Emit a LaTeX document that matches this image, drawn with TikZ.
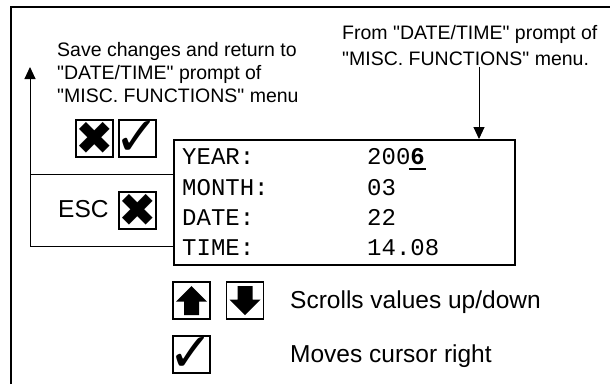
\documentclass[tikz,border=0pt]{standalone}
\usepackage{fontspec}
\setmainfont{Liberation Sans}
\newfontfamily\monofont{Liberation Mono}
\newfontfamily\symfont{DejaVu Sans}
\usetikzlibrary{arrows.meta}
\newcommand\qd{\textquotedbl}
\tikzset{
  lbl/.style={inner sep=0pt, align=left, font=\fontsize{19.5}{23}\selectfont},
  biglbl/.style={inner sep=0pt, font=\fontsize{24.5}{29}\selectfont},
  mono/.style={inner sep=0pt, font=\monofont\fontsize{24}{30}\selectfont},
  btn/.style={draw, line width=1.5pt, minimum size=37pt, inner sep=0pt},
  conn/.style={line width=1pt},
  tip/.style={-{Triangle[length=12pt,width=11pt]}},
  xsym/.style={font=\symfont\fontsize{46}{46}\selectfont, inner sep=0pt},
  csym/.style={font=\symfont\fontsize{54}{54}\selectfont, inner sep=0pt},
}
\begin{document}
\begin{tikzpicture}[x=1pt,y=-1pt]
\useasboundingbox (0,0) rectangle (610,384);
% outer frame (only left and top visible)
\coordinate (fbl) at (11,384);
\coordinate (ftl) at (11,7);
\coordinate (ftr) at (610,7);
\draw[line width=2pt] (fbl) -- (ftl) -- (ftr);

% display box
\node[draw, line width=1.5pt, minimum width=341pt, minimum height=125pt, anchor=north west, inner sep=0pt] (disp) at (173,139) {};
\node[mono, anchor=base west] (yr) at (182,164) {YEAR:};
\node[mono, anchor=base west] (mo) at (182,195) {MONTH:};
\node[mono, anchor=base west] (dt) at (182,225) {DATE:};
\node[mono, anchor=base west] (tm) at (182,255) {TIME:};
\node[mono, anchor=base west] (yrv) at (367,164) {200\makebox[0pt][l]{\hspace{-1.5pt}\rule[-6pt]{17.5pt}{2pt}}\textbf{6}};
\node[mono, anchor=base west] (mov) at (367,195) {03};
\node[mono, anchor=base west] (dtv) at (367,225) {22};
\node[mono, anchor=base west] (tmv) at (367,255) {14.08};

% labels
\node[lbl, anchor=base west] (save) at (57,102) {Save changes and return to\\\qd DATE/TIME\qd{} prompt of\\\qd MISC. FUNCTIONS\qd{} menu};
\node[lbl, anchor=base west, font=\fontsize{19.5}{25.5}\selectfont] (from) at (342,65) {From \qd DATE/TIME\qd{} prompt of\\\qd MISC. FUNCTIONS\qd{} menu.};
\node[biglbl, anchor=base west] (esc) at (58,217) {ESC};
\node[biglbl, anchor=base west] (scr) at (290,308.5) {Scrolls values up/down};
\node[biglbl, anchor=base west] (mov2) at (290,362) {Moves cursor right};

% buttons
\node[btn] (bx1) at (94.5,138.5) {};
\node[btn] (bc1) at (137.5,138.5) {};
\node[btn] (bx2) at (137.5,210.5) {};
\node[btn] (bup) at (191.5,300.5) {};
\node[btn] (bdn) at (245,300.5) {};
\node[btn] (bc2) at (191.5,354.5) {};
\node[xsym] (sx1) at (bx1.center) {✖};
\node[xsym] (sx2) at (bx2.center) {✖};
\node[csym] (sc1) at (bc1.center) {✓};
\node[csym] (sc2) at (bc2.center) {✓};
\fill[shift={(bup.center)}] (0,-14.5) -- (15.5,1) -- (7.5,1) -- (7.5,14.5) -- (-7.5,14.5) -- (-7.5,1) -- (-15.5,1) -- cycle;
\fill[shift={(bdn.center)}] (0,14.5) -- (15.5,-1) -- (7.5,-1) -- (7.5,-14.5) -- (-7.5,-14.5) -- (-7.5,-1) -- (-15.5,-1) -- cycle;

% connectors
\coordinate (lt) at (30,174);
\coordinate (lb) at (30,246);
\coordinate (ltop) at (30,67);
\draw[conn, tip] (lb -| disp.west) -- (lb) -- (ltop);
\draw[conn] (lt -| disp.west) -- (lt);
\coordinate (fa) at (479,67);
\draw[conn, tip] (fa) -- (fa |- disp.north);
\end{tikzpicture}
\end{document}
